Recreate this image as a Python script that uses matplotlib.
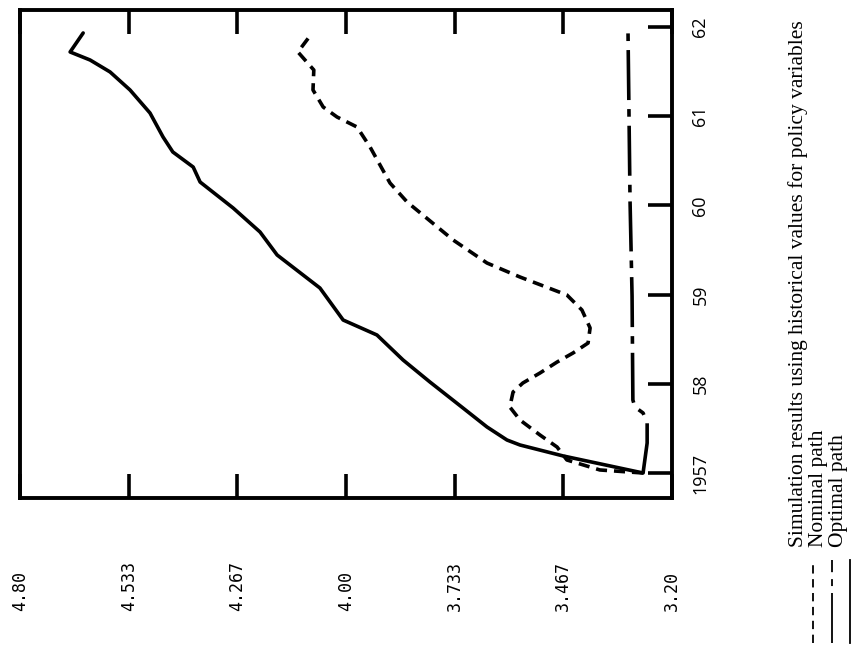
import matplotlib
matplotlib.use("Agg")
import matplotlib.pyplot as plt
from matplotlib.lines import Line2D

plt.rcParams["lines.scale_dashes"] = False

# ---- data ----
value_ticks = [4.80, 4.533, 4.267, 4.00, 3.733, 3.467, 3.20]
value_labels = ["4.80", "4.533", "4.267", "4.00", "3.733", "3.467", "3.20"]
year_ticks = [1957, 1958, 1959, 1960, 1961, 1962]
year_labels = ["1957", "58", "59", "60", "61", "62"]

optimal_t = [1957.000, 1957.191, 1957.314, 1957.370, 1957.516, 1957.729, 1958.020,
             1958.267, 1958.547, 1958.715, 1959.074, 1959.444, 1959.702, 1959.971,
             1960.262, 1960.430, 1960.599, 1960.767, 1961.036, 1961.294, 1961.496,
             1961.630, 1961.720, 1961.933]
optimal_v = [3.271, 3.467, 3.573, 3.605, 3.654, 3.713, 3.794,
             3.860, 3.924, 4.007, 4.064, 4.169, 4.211, 4.277,
             4.358, 4.375, 4.425, 4.449, 4.481, 4.530, 4.579,
             4.628, 4.677, 4.645]

simulation_t = [1957.000, 1957.034, 1957.146, 1957.291, 1957.426, 1957.594, 1957.740,
                1957.908, 1958.009, 1958.121, 1958.244, 1958.345, 1958.457, 1958.626,
                1958.827, 1958.996, 1959.197, 1959.354, 1959.612, 1960.038, 1960.251,
                1960.655, 1960.879, 1960.991, 1961.103, 1961.294, 1961.518, 1961.720,
                1961.933]
simulation_v = [3.271, 3.377, 3.458, 3.482, 3.524, 3.573, 3.598,
                3.590, 3.566, 3.524, 3.482, 3.443, 3.406, 3.401,
                3.421, 3.458, 3.573, 3.654, 3.737, 3.850, 3.892,
                3.941, 3.973, 4.022, 4.056, 4.081, 4.079, 4.118,
                4.083]

nominal_t = [1957.000, 1957.336, 1957.561, 1957.673, 1957.740, 1957.818, 1958.984,
             1960.061, 1961.966]
nominal_v = [3.271, 3.261, 3.261, 3.271, 3.291, 3.296, 3.298,
             3.303, 3.308]

legend_labels = ["Simulation results using historical values for policy variables",
                 "Nominal path",
                 "Optimal path"]

# ---- figure ----
W, H = 860, 647
fig = plt.figure(figsize=(W / 100, H / 100), dpi=100)
fig.patch.set_facecolor("white")

ax_l, ax_r, ax_t, ax_b = 20, 672, 10, 498
ax = fig.add_axes([ax_l / W, 1 - ax_b / H, (ax_r - ax_l) / W, (ax_b - ax_t) / H])

k = "black"
dash_sim = (0, (8.0, 5.0))
dash_nom = (0, (36.0, 6.5, 5.5, 6.5))

ax.plot(simulation_v, simulation_t, color=k, lw=2.6, linestyle=dash_sim,
        solid_joinstyle="round", dash_capstyle="butt")
ax.plot(nominal_v, nominal_t, color=k, lw=2.6, linestyle=dash_nom,
        dash_capstyle="butt")
ax.plot(optimal_v, optimal_t, color=k, lw=2.6, solid_joinstyle="round",
        solid_capstyle="round")

ax.set_xlim(4.80, 3.20)
y_per_px = 1.0 / 89.2
ax.set_ylim(1957 - (ax_b - 473) * y_per_px, 1957 + (473 - ax_t) * y_per_px)

for s in ax.spines.values():
    s.set_linewidth(2.8)
    s.set_color(k)

ax.set_xticks(value_ticks)
ax.set_xticklabels(value_labels, rotation=90, family="DejaVu Sans Mono", fontsize=12)
ax.tick_params(axis="x", which="major", direction="in", top=True, bottom=True,
               length=17, width=2.6, pad=(611 - ax_b) * 0.72, color=k)
for lab in ax.get_xticklabels():
    lab.set_verticalalignment("bottom")
    lab.set_horizontalalignment("center")

ax.yaxis.tick_right()
ax.set_yticks(year_ticks)
ax.set_yticklabels(year_labels, rotation=90, family="Open Sans", fontsize=13)
ax.tick_params(axis="y", which="major", direction="in", right=True, left=False,
               length=17, width=2.6, pad=14, color=k)
for lab in ax.get_yticklabels():
    lab.set_verticalalignment("center")

# ---- legend (rotated, drawn at figure level) ----
def fx(px):
    return px / W

def fy(py):
    return 1 - py / H

sample_x = [813, 832, 850]
sample_styles = [(0, (6.0, 4.0)), (0, (36.0, 5.0, 5.0, 5.0)), "-"]
for sx, st in zip(sample_x, sample_styles):
    fig.add_artist(Line2D([fx(sx), fx(sx)], [fy(643), fy(560)], color=k,
                          lw=1.3, linestyle=st, transform=fig.transFigure))

fig.text(fx(788), fy(547), "\n".join(legend_labels), rotation=90,
         ha="left", va="bottom", multialignment="left", linespacing=1.08,
         family="Liberation Serif", fontsize=15.5, color=k)

fig.savefig("out.png", dpi=100, facecolor="white")
